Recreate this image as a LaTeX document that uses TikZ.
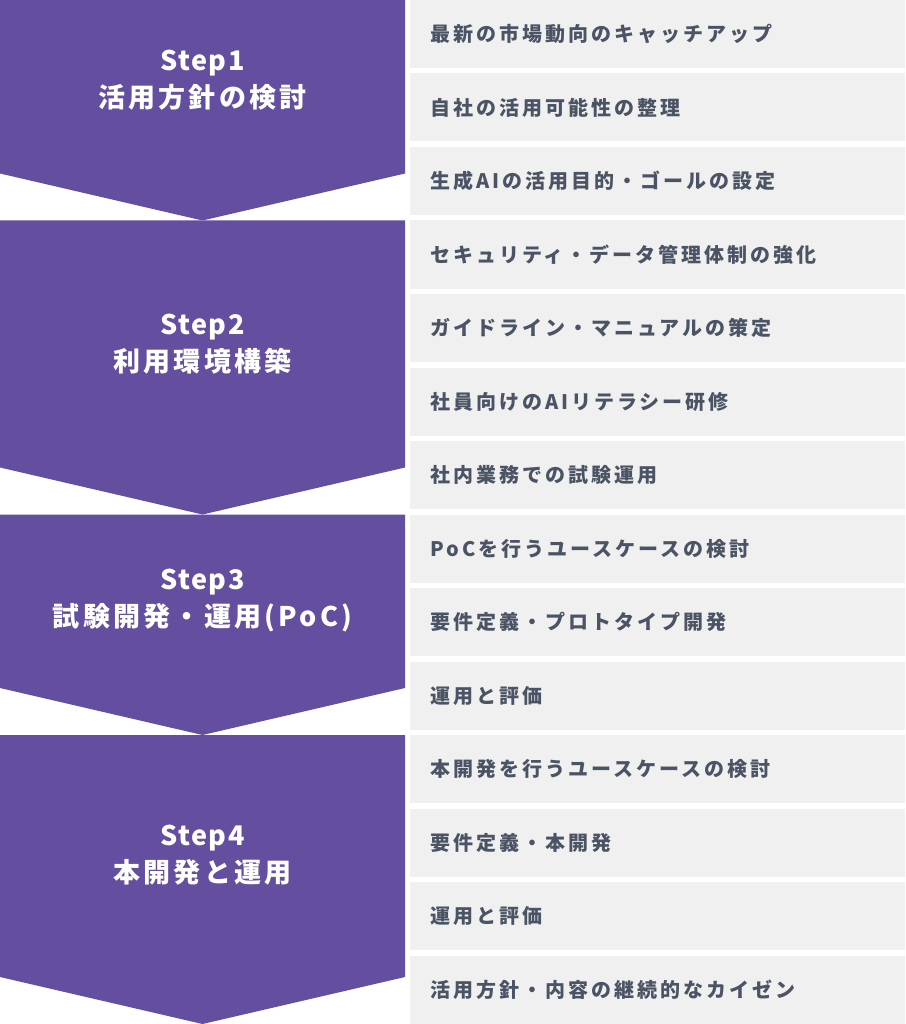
\documentclass[tikz,border=0pt]{standalone}
\usepackage{fontspec}
\usepackage{xcolor}
\newfontfamily\stepfont{Noto Sans CJK JP}[LetterSpace=12]
\newfontfamily\steplatin{Noto Sans CJK JP}[LetterSpace=6]
\newfontfamily\rowfont{Noto Sans CJK JP}[LetterSpace=15]
\usetikzlibrary{positioning}

\definecolor{stepviolet}{RGB}{99,78,160}
\definecolor{rowgrey}{RGB}{240,240,240}
\definecolor{rowtext}{RGB}{75,84,100}

\begin{document}
\begin{tikzpicture}[x=1pt,y=-1pt,
  stepshape/.style={fill=stepviolet},
  steptext/.style={text=white,align=center,font=\stepfont\bfseries\fontsize{27}{37}\selectfont},
  rowbox/.style={fill=rowgrey,text=rowtext,minimum width=495pt,minimum height=68pt,outer sep=0pt,
    inner xsep=20pt,text width=455pt,align=left,font=\rowfont\bfseries\fontsize{20}{24}\selectfont}]
\useasboundingbox (0,0) rectangle (905,1024);

% Draw step arrows
\fill[stepshape] (0,0) -- (405,0) -- (405,173.5) -- (202.5,220.5) -- (0,173.5) -- cycle;
\fill[stepshape] (0,220.5) -- (405,220.5) -- (405,467.5) -- (202.5,514.5) -- (0,467.5) -- cycle;
\fill[stepshape] (0,514.5) -- (405,514.5) -- (405,688) -- (202.5,735) -- (0,688) -- cycle;
\fill[stepshape] (0,735) -- (405,735) -- (405,977) -- (202.5,1024) -- (0,977) -- cycle;

% Step titles
\node[steptext] (step1) at (202.5,80) {{\steplatin Step1}\\活用方針の検討};
\node[steptext] (step2) at (202.5,344) {{\steplatin Step2}\\利用環境構築};
\node[steptext] (step3) at (202.5,601) {{\steplatin Step3}\\試験開発・運用(PoC)};
\node[steptext] (step4) at (202.5,855) {{\steplatin Step4}\\本開発と運用};

% Draw task rows
\node[rowbox,anchor=north west] (r1) at (410,0) {最新の市場動向のキャッチアップ};
\node[rowbox,below=5.5pt of r1] (r2) {自社の活用可能性の整理};
\node[rowbox,below=5.5pt of r2] (r3) {生成AIの活用目的・ゴールの設定};
\node[rowbox,below=5.5pt of r3] (r4) {セキュリティ・データ管理体制の強化};
\node[rowbox,below=5.5pt of r4] (r5) {ガイドライン・マニュアルの策定};
\node[rowbox,below=5.5pt of r5] (r6) {社員向けのAIリテラシー研修};
\node[rowbox,below=5.5pt of r6] (r7) {社内業務での試験運用};
\node[rowbox,below=5.5pt of r7] (r8) {PoCを行うユースケースの検討};
\node[rowbox,below=5.5pt of r8] (r9) {要件定義・プロトタイプ開発};
\node[rowbox,below=5.5pt of r9] (r10) {運用と評価};
\node[rowbox,below=5.5pt of r10] (r11) {本開発を行うユースケースの検討};
\node[rowbox,below=5.5pt of r11] (r12) {要件定義・本開発};
\node[rowbox,below=5.5pt of r12] (r13) {運用と評価};
\node[rowbox,below=5.5pt of r13,minimum height=68.5pt] (r14) {活用方針・内容の継続的なカイゼン};
\end{tikzpicture}
\end{document}
